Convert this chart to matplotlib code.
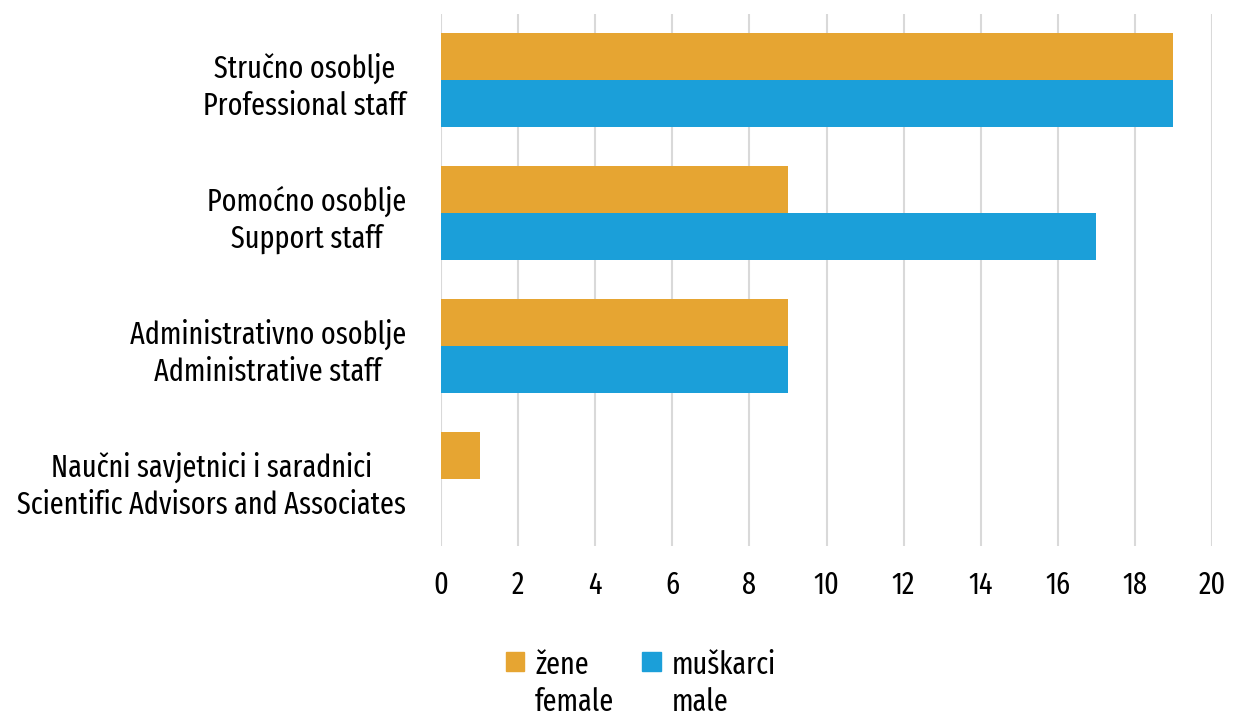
import matplotlib
matplotlib.use("Agg")
import matplotlib.pyplot as plt
import numpy as np
from matplotlib.patches import Patch, Rectangle
from matplotlib.legend_handler import HandlerPatch

categories = ["Stručno osoblje\nProfessional staff",
              "Pomoćno osoblje\nSupport staff",
              "Administrativno osoblje\nAdministrative staff",
              "Naučni savjetnici i saradnici\nScientific Advisors and Associates"]
female = [19, 9, 9, 1]
male = [19, 17, 9, 0]
series_labels = ["žene\nfemale", "muškarci\nmale"]
xticks = list(range(0, 21, 2))

plt.rcParams['font.family'] = ['Fira Sans Extra Condensed', 'DejaVu Sans']

c_f = '#E6A532'
c_m = '#1B9FD9'
FS = 22
LS = 1.3

fig = plt.figure(figsize=(12.58, 7.2), dpi=100)
ax = fig.add_axes([441/1258, 1-545.5/720, (1212-441)/1258, (545.5-13.5)/720])

y = np.arange(len(categories))
h = 0.353
ax.barh(y - h/2, female, height=h, color=c_f, zorder=3)
ax.barh(y + h/2, male, height=h, color=c_m, zorder=3)
ax.set_ylim(len(categories) - 0.5, -0.5)
ax.set_xlim(0, 20)
ax.set_xticks(xticks)
ax.set_xticklabels([str(t) for t in xticks])
ax.set_yticks(y)
ax.set_yticklabels(categories, ha='right', multialignment='center', linespacing=LS)
ax.tick_params(axis='y', length=0, pad=25, labelsize=FS)
ax.tick_params(axis='x', length=0, pad=18, labelsize=FS)
ax.grid(axis='x', color='#D9D9D9', linewidth=1.5, zorder=0)
for s in ax.spines.values():
    s.set_visible(False)


def top_square(legend, orig_handle, xdescent, ydescent, width, height, fontsize):
    return Rectangle((-xdescent, -ydescent + fontsize * 0.76), width, height)


handles = [Patch(color=c_f), Patch(color=c_m)]
leg = fig.legend(handles, series_labels, loc='upper left', bbox_to_anchor=(478/1258, 1-622/720),
                 ncol=2, frameon=False, fontsize=FS, handlelength=0.62, handleheight=0.62,
                 handletextpad=0.35, columnspacing=0.9, labelspacing=0.2,
                 handler_map={Patch: HandlerPatch(patch_func=top_square)})
for t in leg.get_texts():
    t.set_linespacing(LS)

fig.savefig("out.png", dpi=100)
